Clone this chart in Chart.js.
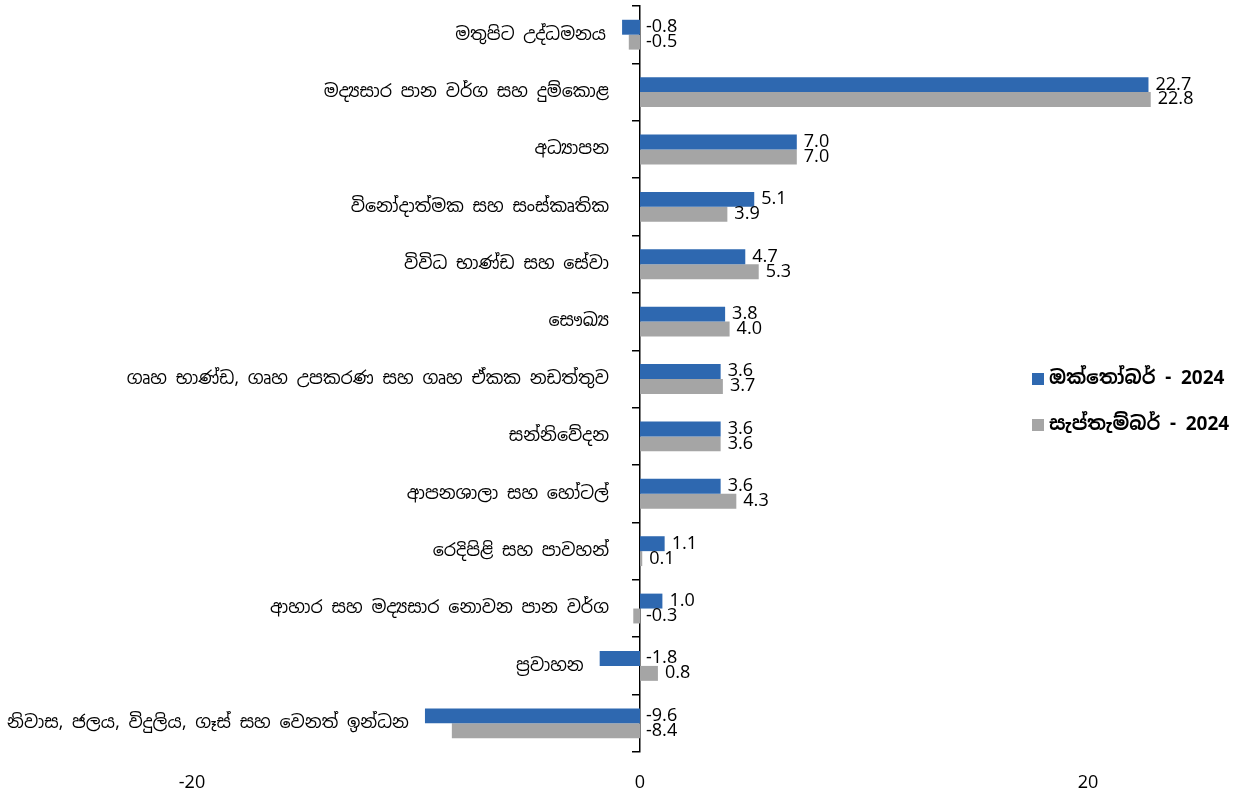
<!DOCTYPE html>
<html>
<head>
<meta charset="utf-8">
<script src="https://cdn.jsdelivr.net/npm/chart.js@4.4.1/dist/chart.umd.min.js"></script>
<style>
  html, body { margin: 0; padding: 0; background: #fff; }
  #wrap { width: 1237px; height: 794px; }
</style>
</head>
<body>
<div id="wrap"><canvas id="inflation"></canvas></div>
<script>
const categories = [
  "මතුපිට උද්ධමනය",
  "මද්‍යසාර පාන වර්ග සහ දුම්කොළ",
  "අධ්‍යාපන",
  "විනෝදාත්මක සහ සංස්කෘතික",
  "විවිධ භාණ්ඩ සහ සේවා",
  "සෞඛ්‍ය",
  "ගෘහ භාණ්ඩ, ගෘහ උපකරණ සහ ගෘහ ඒකක නඩත්තුව",
  "සන්නිවේදන",
  "ආපනශාලා සහ හෝටල්",
  "රෙදිපිළි සහ පාවහන්",
  "ආහාර සහ මද්‍යසාර නොවන පාන වර්ග",
  "ප්‍රවාහන",
  "නිවාස, ජලය, විදුලිය, ගෑස් සහ වෙනත් ඉන්ධන"
];
const october = [-0.8, 22.7, 7.0, 5.1, 4.7, 3.8, 3.6, 3.6, 3.6, 1.1, 1.0, -1.8, -9.6];
const september = [-0.5, 22.8, 7.0, 3.9, 5.3, 4.0, 3.7, 3.6, 4.3, 0.1, -0.3, 0.8, -8.4];
const seriesNames = ["ඔක්තෝබර් - 2024", "සැප්තැම්බර් - 2024"];
const xTicks = [-20, 0, 20];

const textFont = '"Noto Sans Sinhala", "Noto Sans", sans-serif';

// category names sit left of the zero line, or left of a negative bar
const categoryLabels = {
  id: "categoryLabels",
  afterDatasetsDraw(chart) {
    const { ctx, scales } = chart;
    const x = scales.x, y = scales.y;
    ctx.save();
    ctx.font = "17.5px " + textFont;
    ctx.fillStyle = "#000";
    ctx.textAlign = "right";
    ctx.textBaseline = "middle";
    categories.forEach((name, i) => {
      const low = Math.min(0, october[i], september[i]);
      const px = Math.min(x.getPixelForValue(0) - 31, x.getPixelForValue(low) - 16);
      ctx.fillText(name, px, y.getPixelForValue(i));
    });
    ctx.restore();
  },
};

const valueLabels = {
  id: "valueLabels",
  afterDatasetsDraw(chart) {
    const { ctx, scales } = chart;
    const zero = scales.x.getPixelForValue(0);
    ctx.save();
    ctx.font = "18px " + textFont;
    ctx.fillStyle = "#000";
    ctx.textAlign = "left";
    ctx.textBaseline = "middle";
    chart.data.datasets.forEach((ds, d) => {
      chart.getDatasetMeta(d).data.forEach((bar, i) => {
        const v = ds.data[i];
        const px = v >= 0 ? bar.x + 7 : zero + 6;
        ctx.fillText(v.toFixed(1), px, bar.y);
      });
    });
    ctx.restore();
  },
};

const sideLegend = {
  id: "sideLegend",
  afterDraw(chart) {
    const { ctx } = chart;
    ctx.save();
    ctx.font = "bold 19px " + textFont;
    ctx.textAlign = "left";
    ctx.textBaseline = "middle";
    chart.data.datasets.forEach((ds, d) => {
      const cy = 379 + d * 46;
      ctx.fillStyle = ds.backgroundColor;
      ctx.fillRect(1032, cy - 6, 12, 12);
      ctx.fillStyle = "#000";
      ctx.fillText(ds.label, 1049, cy);
    });
    ctx.restore();
  },
};

new Chart(document.getElementById("inflation"), {
  type: "bar",
  data: {
    labels: categories,
    datasets: [
      { label: seriesNames[0], data: october, backgroundColor: "#2E68B0" },
      { label: seriesNames[1], data: september, backgroundColor: "#A5A5A5" },
    ],
  },
  options: {
    indexAxis: "y",
    responsive: true,
    maintainAspectRatio: false,
    animation: false,
    datasets: { bar: { categoryPercentage: 0.52, barPercentage: 1.0 } },
    layout: { padding: { top: 6, left: 80, right: 37, bottom: 0 } },
    plugins: { legend: { display: false }, tooltip: { enabled: false } },
    scales: {
      x: {
        type: "linear",
        min: -25,
        max: 25,
        afterBuildTicks: (scale) => {
          scale.ticks = xTicks.map((v) => ({ value: v }));
        },
        afterFit: (scale) => {
          scale.height = 42;
        },
        grid: { display: false, drawTicks: false },
        border: { display: false },
        ticks: { color: "#000", font: { family: textFont, size: 18 }, padding: 20 },
      },
      y: {
        type: "category",
        position: { x: 0 },
        ticks: { display: false },
        grid: {
          drawOnChartArea: false,
          drawTicks: true,
          tickLength: 7,
          offset: true,
          color: "#000",
          lineWidth: 1.5,
        },
        border: { display: true, color: "#000", width: 1.5 },
      },
    },
  },
  plugins: [categoryLabels, valueLabels, sideLegend],
});
</script>
</body>
</html>
